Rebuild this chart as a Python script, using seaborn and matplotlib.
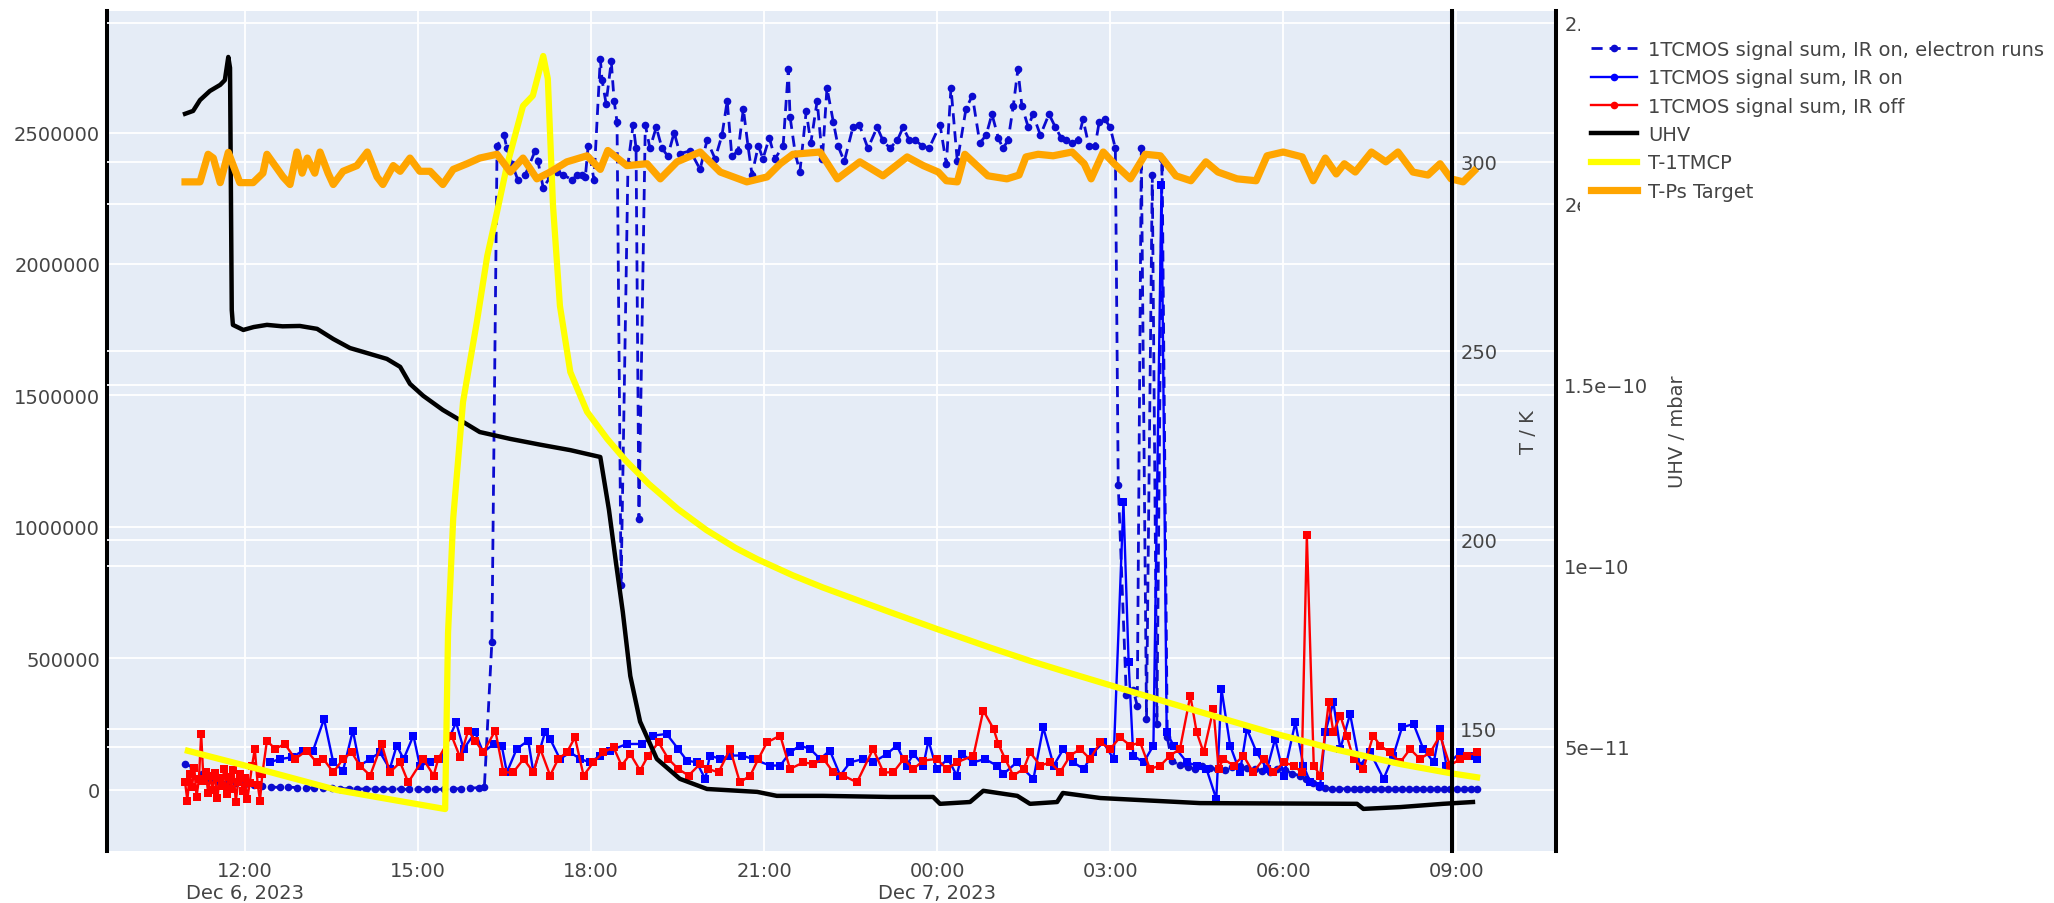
import numpy as np
import pandas as pd
import matplotlib
matplotlib.use("Agg")
import matplotlib.pyplot as plt
from matplotlib.lines import Line2D
from matplotlib.patches import Rectangle
import seaborn as sns

plt.rcParams["font.family"] = ["DejaVu Sans"]

DAY0 = pd.Timestamp("2023-12-06")

# ---------------------------------------------------------------------------
# Data (time in hours since Dec 6 2023 00:00)
# ---------------------------------------------------------------------------

# 1TCMOS signal sum, IR on, electron runs
ELEC_HOURS = [
    10.96, 11.10, 11.25, 11.40, 11.55, 11.70, 11.85, 12.00, 12.15, 12.30,
    12.45, 12.60, 12.75, 12.90, 13.05, 13.20, 13.35, 13.50, 13.65, 13.80,
    13.95, 14.10, 14.25, 14.40, 14.55, 14.70, 14.85, 15.00, 15.15, 15.30,
    15.45, 15.60, 15.75, 15.90, 16.05, 16.15, 16.28,
    16.37, 16.49, 16.54, 16.63, 16.73, 16.86, 17.03, 17.08, 17.17, 17.29,
    17.41, 17.51, 17.67, 17.76, 17.84, 17.90, 17.95, 18.05, 18.16, 18.19,
    18.26, 18.35, 18.40, 18.45, 18.52, 18.64, 18.73, 18.78, 18.83, 18.94,
    19.02, 19.13, 19.23, 19.33, 19.44, 19.54, 19.72, 19.89, 20.01, 20.15,
    20.27, 20.36, 20.44, 20.55, 20.64, 20.72, 20.79, 20.90, 20.98, 21.09,
    21.19, 21.33, 21.42, 21.45, 21.54, 21.62, 21.73, 21.81, 21.92, 22.01,
    22.09, 22.20, 22.28, 22.39, 22.54, 22.65, 22.80, 22.96, 23.06, 23.18,
    23.31, 23.41, 23.52, 23.62, 23.74, 23.86, 24.05, 24.16, 24.24, 24.35,
    24.50, 24.61, 24.74, 24.85, 24.95, 25.06, 25.14, 25.23, 25.32, 25.40,
    25.47, 25.58, 25.66, 25.79, 25.94, 26.05, 26.15, 26.24, 26.34, 26.44,
    26.53, 26.63, 26.74, 26.81, 26.91, 27.00, 27.09, 27.14, 27.28, 27.40,
    27.47, 27.54, 27.63, 27.73, 27.81, 27.90, 27.99, 28.07,
    28.21, 28.35, 28.47, 28.60, 28.73, 28.86, 28.99, 29.12, 29.25, 29.38,
    29.51, 29.64, 29.77, 29.90, 30.03, 30.16, 30.29, 30.40, 30.52, 30.62,
    30.73, 30.85, 30.97, 31.10, 31.22, 31.34, 31.46, 31.58, 31.70, 31.82,
    31.94, 32.06, 32.18, 32.30, 32.42, 32.54, 32.66, 32.78, 32.90, 33.02,
    33.14, 33.26, 33.36,
]
ELEC_COUNTS = [
    100000, 85000, 62000, 42000, 31000, 27000, 25000, 22000, 18000, 14000,
    11000, 10000, 11000, 9000, 8000, 7000, 8000, 6000, 5000, 5000,
    4000, 4000, 3000, 3000, 4000, 3000, 2000, 2000, 3000, 2000,
    3000, 4000, 5000, 7000, 9000, 12000, 563000,
    2450000, 2490000, 2440000, 2380000, 2320000, 2340000, 2430000, 2390000, 2290000, 2330000,
    2350000, 2340000, 2320000, 2340000, 2340000, 2330000, 2450000, 2320000, 2780000, 2700000,
    2610000, 2770000, 2620000, 2540000, 780000, 2380000, 2530000, 2440000, 1030000, 2530000,
    2440000, 2520000, 2440000, 2410000, 2500000, 2420000, 2430000, 2360000, 2470000, 2400000,
    2490000, 2620000, 2410000, 2430000, 2590000, 2450000, 2340000, 2450000, 2400000, 2480000,
    2400000, 2450000, 2740000, 2560000, 2420000, 2350000, 2580000, 2460000, 2620000, 2400000,
    2670000, 2540000, 2450000, 2390000, 2520000, 2530000, 2440000, 2520000, 2470000, 2440000,
    2470000, 2520000, 2470000, 2470000, 2450000, 2440000, 2530000, 2380000, 2670000, 2390000,
    2590000, 2640000, 2460000, 2490000, 2570000, 2480000, 2440000, 2470000, 2600000, 2740000,
    2600000, 2520000, 2570000, 2490000, 2570000, 2520000, 2480000, 2470000, 2460000, 2470000,
    2550000, 2450000, 2450000, 2540000, 2550000, 2520000, 2440000, 1160000, 360000, 380000,
    320000, 2440000, 270000, 2340000, 250000, 2400000, 200000, 110000,
    95000, 88000, 80000, 92000, 85000, 78000, 75000, 86000, 90000, 82000,
    80000, 74000, 70000, 78000, 75000, 62000, 55000, 40000, 25000, 12000,
    8000, 5000, 5000, 4000, 4000, 5000, 4000, 3000, 4000, 5000,
    4000, 4000, 3000, 4000, 5000, 4000, 4000, 3000, 4000, 4000,
    5000, 4000, 4000,
]

# 1TCMOS signal sum, IR on
IRON_HOURS = [
    12.43, 12.61, 12.81, 13.01, 13.18, 13.37, 13.53, 13.70, 13.87, 13.99,
    14.17, 14.34, 14.51, 14.63, 14.75, 14.92, 15.03, 15.21, 15.38, 15.66,
    15.79, 15.99, 16.13, 16.31, 16.45, 16.54, 16.71, 16.91, 17.00, 17.20,
    17.29, 17.46, 17.64, 17.81, 17.98, 18.16, 18.33, 18.62, 18.88, 19.08,
    19.31, 19.51, 19.66, 19.83, 19.98, 20.06, 20.24, 20.41, 20.61, 20.81,
    21.10, 21.28, 21.45, 21.62, 21.80, 21.97, 22.14, 22.32, 22.49, 22.72,
    22.89, 23.13, 23.30, 23.47, 23.59, 23.76, 23.85, 23.99, 24.19, 24.34,
    24.43, 24.63, 24.83, 25.03, 25.15, 25.38, 25.67, 25.84, 26.02, 26.19,
    26.36, 26.54, 26.71, 26.88, 27.06, 27.23, 27.32, 27.40, 27.58, 27.75,
    27.89, 27.98, 28.10, 28.33, 28.50, 28.67, 28.84, 28.93, 29.08, 29.25,
    29.37, 29.54, 29.72, 29.86, 30.01, 30.21, 30.35, 30.47, 30.64, 30.73,
    30.87, 30.99, 31.16, 31.33, 31.51, 31.74, 31.91, 32.06, 32.26, 32.43,
    32.61, 32.72, 32.83, 33.07, 33.24, 33.36,
]
IRON_COUNTS = [
    105000, 118000, 124000, 150000, 150000, 270000, 105000, 74000, 226000, 93000,
    118000, 143000, 80000, 169000, 118000, 207000, 93000, 105000, 118000, 257000,
    156000, 219000, 143000, 175000, 169000, 67000, 156000, 188000, 67000, 219000,
    194000, 118000, 143000, 118000, 105000, 131000, 150000, 175000, 175000, 207000,
    213000, 156000, 112000, 105000, 42000, 131000, 118000, 131000, 131000, 118000,
    93000, 93000, 143000, 169000, 156000, 118000, 150000, 55000, 105000, 118000,
    105000, 137000, 169000, 93000, 137000, 93000, 188000, 80000, 118000, 55000,
    137000, 105000, 118000, 93000, 61000, 105000, 42000, 238000, 93000, 156000,
    105000, 80000, 143000, 181000, 118000, 1095000, 486000, 131000, 105000, 169000,
    2300000, 219000, 169000, 105000, 93000, 80000, -34000, 384000, 169000, 67000,
    232000, 143000, 80000, 194000, 55000, 257000, 93000, 29000, 16000, 219000,
    334000, 156000, 289000, 93000, 143000, 42000, 131000, 238000, 251000, 156000,
    105000, 232000, 93000, 143000, 131000, 118000,
]

# 1TCMOS signal sum, IR off
IROFF_HOURS = [
    10.96, 11.00, 11.04, 11.08, 11.12, 11.16, 11.20, 11.24, 11.28, 11.32,
    11.36, 11.40, 11.44, 11.48, 11.52, 11.56, 11.60, 11.64, 11.68, 11.72,
    11.76, 11.80, 11.84, 11.88, 11.92, 11.96, 12.00, 12.04, 12.08, 12.12,
    12.17, 12.22, 12.26, 12.30, 12.38,
    12.52, 12.69, 12.87, 13.07, 13.24, 13.36, 13.53, 13.70, 13.85, 13.99,
    14.17, 14.37, 14.51, 14.69, 14.83, 15.09, 15.27, 15.35, 15.58, 15.73,
    15.87, 15.99, 16.13, 16.34, 16.48, 16.65, 16.83, 17.00, 17.12, 17.29,
    17.43, 17.58, 17.72, 17.87, 18.04, 18.21, 18.39, 18.53, 18.68, 18.85,
    18.99, 19.17, 19.34, 19.51, 19.69, 19.89, 20.03, 20.21, 20.41, 20.58,
    20.76, 20.90, 21.05, 21.28, 21.45, 21.68, 21.85, 22.03, 22.20, 22.37,
    22.61, 22.89, 23.07, 23.24, 23.42, 23.59, 23.76, 23.99, 24.17, 24.34,
    24.63, 24.80, 24.98, 25.06, 25.18, 25.32, 25.50, 25.61, 25.79, 25.96,
    26.13, 26.31, 26.48, 26.65, 26.83, 27.00, 27.17, 27.35, 27.52, 27.69,
    27.87, 28.04, 28.21, 28.39, 28.50, 28.62, 28.79, 28.88, 28.96, 29.14,
    29.31, 29.48, 29.66, 29.83, 30.01, 30.18, 30.32, 30.41, 30.53, 30.64,
    30.79, 30.87, 30.99, 31.10, 31.22, 31.39, 31.56, 31.68, 31.85, 32.03,
    32.20, 32.37, 32.55, 32.72, 32.89, 33.07, 33.18, 33.36,
]
IROFF_COUNTS = [
    30000, -40000, 60000, 10000, 85000, -25000, 40000, 213000, 35000, 70000,
    -10000, 55000, 0, 65000, -30000, 45000, 15000, 80000, -15000, 50000,
    5000, 75000, -45000, 30000, 60000, -5000, 45000, -35000, 25000, 90000,
    156000, 20000, -40000, 60000, 188000,
    156000, 175000, 118000, 150000, 105000, 118000, 67000, 118000, 143000, 93000,
    55000, 175000, 67000, 105000, 29000, 118000, 55000, 118000, 207000, 124000,
    226000, 188000, 143000, 226000, 67000, 67000, 118000, 67000, 156000, 55000,
    118000, 143000, 200000, 55000, 105000, 143000, 162000, 93000, 137000, 74000,
    131000, 181000, 118000, 80000, 55000, 99000, 80000, 67000, 156000, 29000,
    55000, 118000, 181000, 207000, 80000, 105000, 99000, 118000, 67000, 55000,
    29000, 156000, 67000, 67000, 118000, 80000, 112000, 118000, 80000, 105000,
    131000, 302000, 232000, 175000, 118000, 55000, 80000, 143000, 93000, 105000,
    67000, 131000, 156000, 118000, 181000, 156000, 200000, 169000, 181000, 80000,
    93000, 131000, 156000, 359000, 219000, 143000, 308000, 80000, 118000, 93000,
    131000, 67000, 118000, 67000, 105000, 93000, 67000, 968000, 93000, 55000,
    334000, 219000, 283000, 207000, 118000, 80000, 207000, 169000, 143000, 105000,
    156000, 118000, 143000, 207000, 93000, 118000, 131000, 143000,
]

# UHV pressure / mbar
UHV_HOURS = [
    10.96, 11.10, 11.22, 11.39, 11.57, 11.65, 11.71, 11.74, 11.77, 11.79,
    11.97, 12.15, 12.38, 12.65, 12.95, 13.25, 13.53, 13.82, 14.12, 14.46,
    14.69, 14.86, 15.09, 15.43, 15.78, 16.07, 16.60, 17.12, 17.64, 18.16,
    18.31, 18.43, 18.55, 18.68, 18.85, 19.14, 19.54, 20.01, 20.88, 21.22,
    22.02, 23.18, 23.93, 24.05, 24.57, 24.80, 25.39, 25.61, 26.08, 26.18,
    26.83, 28.56, 31.28, 31.39, 32.03, 32.77, 33.29,
]
UHV_MBAR = [
    2.249e-10, 2.257e-10, 2.287e-10, 2.312e-10, 2.329e-10, 2.342e-10, 2.406e-10, 2.376e-10, 1.707e-10, 1.666e-10,
    1.652e-10, 1.660e-10, 1.666e-10, 1.662e-10, 1.663e-10, 1.655e-10, 1.627e-10, 1.602e-10, 1.588e-10, 1.572e-10,
    1.550e-10, 1.503e-10, 1.470e-10, 1.431e-10, 1.398e-10, 1.370e-10, 1.351e-10, 1.335e-10, 1.320e-10, 1.301e-10,
    1.155e-10, 1.011e-10, 0.873e-10, 0.696e-10, 0.570e-10, 0.467e-10, 0.412e-10, 0.384e-10, 0.376e-10, 0.365e-10,
    0.365e-10, 0.362e-10, 0.362e-10, 0.343e-10, 0.348e-10, 0.379e-10, 0.365e-10, 0.343e-10, 0.348e-10, 0.373e-10,
    0.359e-10, 0.345e-10, 0.343e-10, 0.329e-10, 0.334e-10, 0.343e-10, 0.348e-10,
]

# T-1TMCP / K
TMCP_HOURS = [
    11.01, 12.43, 13.60, 15.47, 15.52, 15.61, 15.78, 16.02, 16.20, 16.37,
    16.54, 16.82, 16.99, 17.17, 17.25, 17.34, 17.46, 17.64, 17.93, 18.28,
    18.60, 19.00, 19.50, 20.00, 20.50, 20.88, 21.50, 22.02, 23.18, 24.00,
    24.92, 25.61, 26.25, 27.12, 28.33, 29.72, 30.87, 32.03, 32.89, 33.36,
]
TMCP_K = [
    144.2, 138.6, 133.8, 128.8, 175.4, 205.8, 236.5, 257.7, 275.1, 286.8,
    298.9, 314.8, 317.5, 328.0, 322.0, 288.4, 261.9, 244.4, 233.9, 226.7,
    221.0, 214.8, 208.2, 202.6, 197.9, 194.9, 190.6, 187.4, 180.9, 176.4,
    171.5, 168.0, 165.0, 161.0, 155.5, 149.3, 144.7, 140.7, 138.3, 137.2,
]

# T-Ps Target / K
TPS_HOURS = [
    10.96, 11.22, 11.36, 11.45, 11.57, 11.71, 11.91, 12.14, 12.31, 12.38,
    12.66, 12.78, 12.90, 12.99, 13.08, 13.21, 13.30, 13.44, 13.53, 13.70,
    13.94, 14.12, 14.29, 14.39, 14.57, 14.69, 14.86, 15.03, 15.21, 15.43,
    15.61, 15.85, 16.07, 16.37, 16.60, 16.82, 17.06, 17.29, 17.58, 17.93,
    18.16, 18.29, 18.62, 18.97, 19.20, 19.49, 19.89, 20.24, 20.70, 21.05,
    21.28, 21.50, 21.97, 22.27, 22.66, 23.06, 23.48, 23.76, 24.02, 24.16,
    24.35, 24.48, 24.69, 24.88, 25.21, 25.42, 25.54, 25.75, 26.01, 26.34,
    26.55, 26.67, 26.88, 27.07, 27.35, 27.61, 27.87, 28.14, 28.40, 28.66,
    28.87, 29.20, 29.53, 29.72, 30.00, 30.33, 30.52, 30.73, 30.92, 31.06,
    31.25, 31.53, 31.78, 31.99, 32.25, 32.51, 32.72, 32.91, 33.12, 33.31,
]
TPS_K = [
    294.7, 294.7, 302.0, 301.0, 294.5, 302.5, 294.5, 294.5, 297.0, 302.0,
    296.0, 294.0, 302.6, 297.0, 301.0, 297.0, 302.6, 297.0, 294.0, 297.5,
    299.0, 302.6, 296.0, 294.0, 299.0, 297.5, 301.0, 297.5, 297.5, 294.0,
    298.0, 299.5, 301.0, 302.0, 297.3, 301.0, 295.5, 297.3, 300.0, 301.6,
    298.0, 303.0, 299.0, 299.5, 295.5, 300.0, 302.6, 297.3, 294.7, 296.0,
    299.5, 302.0, 302.6, 295.5, 300.0, 296.3, 301.3, 299.0, 297.3, 295.0,
    294.7, 302.0, 299.0, 296.3, 295.5, 296.5, 301.3, 302.0, 301.6, 302.6,
    299.5, 295.5, 302.6, 299.5, 295.5, 302.0, 301.6, 296.3, 295.0, 300.0,
    297.3, 295.5, 295.0, 301.6, 302.6, 301.3, 295.0, 301.0, 296.8, 299.5,
    297.3, 302.6, 300.0, 302.6, 297.3, 296.5, 299.5, 295.5, 294.7, 297.6,
]

X_TICK_HOURS = [12, 15, 18, 21, 24, 27, 30, 33]
X_TICK_LABELS = ["12:00\nDec 6, 2023", "15:00", "18:00", "21:00",
                 "00:00\nDec 7, 2023", "03:00", "06:00", "09:00"]
SIG_TICKS = [0, 500000, 1000000, 1500000, 2000000, 2500000]
T_TICKS = [150, 200, 250, 300]
P_TICKS = [5e-11, 1e-10, 1.5e-10, 2e-10, 2.5e-10]
P_TICK_LABELS = ["5e\u221211", "1e\u221210", "1.5e\u221210", "2e\u221210", "2.5e\u221210"]

SERIES_NAMES = ["1TCMOS signal sum, IR on, electron runs", "1TCMOS signal sum, IR on",
                "1TCMOS signal sum, IR off", "UHV", "T-1TMCP", "T-Ps Target"]


def frame(hours, values):
    return pd.DataFrame({"time": DAY0 + pd.to_timedelta(hours, unit="h"),
                         "value": values})


def when(h):
    return DAY0 + pd.Timedelta(hours=h)


TEXT = "#444444"
BG = "#E5ECF6"
W, H = 2054, 904
L, R, T, B = 107, 1556, 12, 852

fig = plt.figure(figsize=(W / 100, H / 100), dpi=100)
ax = fig.add_axes([L / W, 1 - B / H, (R - L) / W, (B - T) / H])
ax.set_facecolor(BG)

# grid carriers for the temperature and pressure scales (below all traces)
gT = ax.twinx()
gP = ax.twinx()
# data layers: signal, pressure, temperature
dS = ax.twinx()
dP = ax.twinx()
dT = ax.twinx()

SIG_LIM = (-232000, 2962000)
T_LIM = (117.7, 339.9)
P_LIM = (2.127e-11, 2.533e-10)

for a, lim in [(ax, SIG_LIM), (dS, SIG_LIM), (gT, T_LIM), (dT, T_LIM),
               (gP, P_LIM), (dP, P_LIM)]:
    a.set_ylim(*lim)
    for s in a.spines.values():
        s.set_visible(False)

ax.set_xlim(when(9.607), when(34.73))

ax.set_xticks([when(h) for h in X_TICK_HOURS])
ax.set_xticklabels(X_TICK_LABELS)
ax.set_yticks(SIG_TICKS)
ax.set_yticklabels([str(v) for v in SIG_TICKS])
ax.grid(True, color="white", linewidth=1.3)
ax.set_axisbelow(True)
for g, ticks in [(gT, T_TICKS), (gP, P_TICKS)]:
    g.set_yticks(ticks)
    g.grid(True, axis="y", color="white", linewidth=1.3)
    g.tick_params(axis="y", right=False, labelright=False, length=0)
dS.set_yticks([])
dS.tick_params(axis="y", right=False, labelright=False, length=0)

ax.spines["left"].set_visible(True)
ax.spines["left"].set_color("black")
ax.spines["left"].set_linewidth(2.9)
ax.tick_params(axis="y", length=0, pad=5, labelsize=14, labelcolor=TEXT)
ax.tick_params(axis="x", length=0, pad=7, labelsize=14, labelcolor=TEXT)

ELEC_STYLE = dict(color="#0b0bd0", linewidth=2.0, linestyle=(0, (4, 2.5)),
                  marker="o", markersize=5.5)
IRON_STYLE = dict(color="#0000ff", linewidth=1.7, linestyle="-", marker="s", markersize=5.3)
IROFF_STYLE = dict(color="#ff0000", linewidth=1.7, linestyle="-", marker="s", markersize=5.3)
UHV_STYLE = dict(color="black", linewidth=3.2, linestyle="-")
TMCP_STYLE = dict(color="#ffff00", linewidth=4.5, linestyle="-")
TPS_STYLE = dict(color="#ffa500", linewidth=5.2, linestyle="-")

common = dict(x="time", y="value", estimator=None, sort=False, errorbar=None, legend=False)

# signal traces
sns.lineplot(data=frame(ELEC_HOURS, ELEC_COUNTS), ax=dS, markeredgewidth=0, **ELEC_STYLE, **common)
sns.lineplot(data=frame(IRON_HOURS, IRON_COUNTS), ax=dS, markeredgewidth=0, **IRON_STYLE, **common)
sns.lineplot(data=frame(IROFF_HOURS, IROFF_COUNTS), ax=dS, markeredgewidth=0, **IROFF_STYLE, **common)

# pressure trace
sns.lineplot(data=frame(UHV_HOURS, UHV_MBAR), ax=dP, **UHV_STYLE, **common)

# temperature traces
sns.lineplot(data=frame(TMCP_HOURS, TMCP_K), ax=dT, **TMCP_STYLE, **common)
sns.lineplot(data=frame(TPS_HOURS, TPS_K), ax=dT, **TPS_STYLE, **common)

for a in (dS, dP, dT):
    a.set_xlabel("")
    a.set_ylabel("")

# temperature axis, placed inside the plot area
dT.spines["right"].set_visible(True)
dT.spines["right"].set_position(("axes", (1452 - L) / (R - L)))
dT.spines["right"].set_color("black")
dT.spines["right"].set_linewidth(2.9)
dT.set_yticks(T_TICKS)
dT.set_yticklabels([str(v) for v in T_TICKS])
dT.tick_params(axis="y", length=0, pad=6, labelsize=14, labelcolor=TEXT)
dT.set_ylabel("T / K", fontsize=14, color=TEXT)
dT.yaxis.set_label_coords((1528 - L) / (R - L), 0.5)
dT.yaxis.label.set_verticalalignment("center")

# pressure axis on the right edge
dP.spines["right"].set_visible(True)
dP.spines["right"].set_color("black")
dP.spines["right"].set_linewidth(2.9)
dP.set_yticks(P_TICKS)
dP.set_yticklabels(P_TICK_LABELS)
dP.tick_params(axis="y", length=0, pad=6, labelsize=14, labelcolor=TEXT)
dP.set_ylabel("UHV / mbar", fontsize=14, color=TEXT)
dP.yaxis.set_label_coords((1677 - L) / (R - L), 0.5)
dP.yaxis.label.set_verticalalignment("center")

# legend: white panel over the upper pressure labels, entries drawn on top
fig.add_artist(Rectangle((1580 / W, 1 - 216 / H), (W - 1580) / W, (216 - 12) / H,
                         transform=fig.transFigure, facecolor="white",
                         edgecolor="none", zorder=4))
handles = [
    Line2D([], [], color=ELEC_STYLE["color"], linewidth=2.0, linestyle=(0, (4, 2.5)),
           marker="o", markersize=5.5, markeredgewidth=0),
    Line2D([], [], color=IRON_STYLE["color"], linewidth=1.7, marker="o",
           markersize=5.5, markeredgewidth=0),
    Line2D([], [], color=IROFF_STYLE["color"], linewidth=1.7, marker="o",
           markersize=5.5, markeredgewidth=0),
    Line2D([], [], **UHV_STYLE),
    Line2D([], [], **TMCP_STYLE),
    Line2D([], [], **TPS_STYLE),
]
leg = fig.legend(handles, SERIES_NAMES, loc="upper left",
                 bbox_to_anchor=(1591 / W, 1 - 41 / H), frameon=False,
                 fontsize=14, labelcolor=TEXT, handlelength=2.37, handletextpad=0.57,
                 labelspacing=0.48, borderpad=0.0, borderaxespad=0.0, numpoints=1)
leg.set_zorder(5)

fig.savefig("out.png", dpi=100, facecolor="white")
